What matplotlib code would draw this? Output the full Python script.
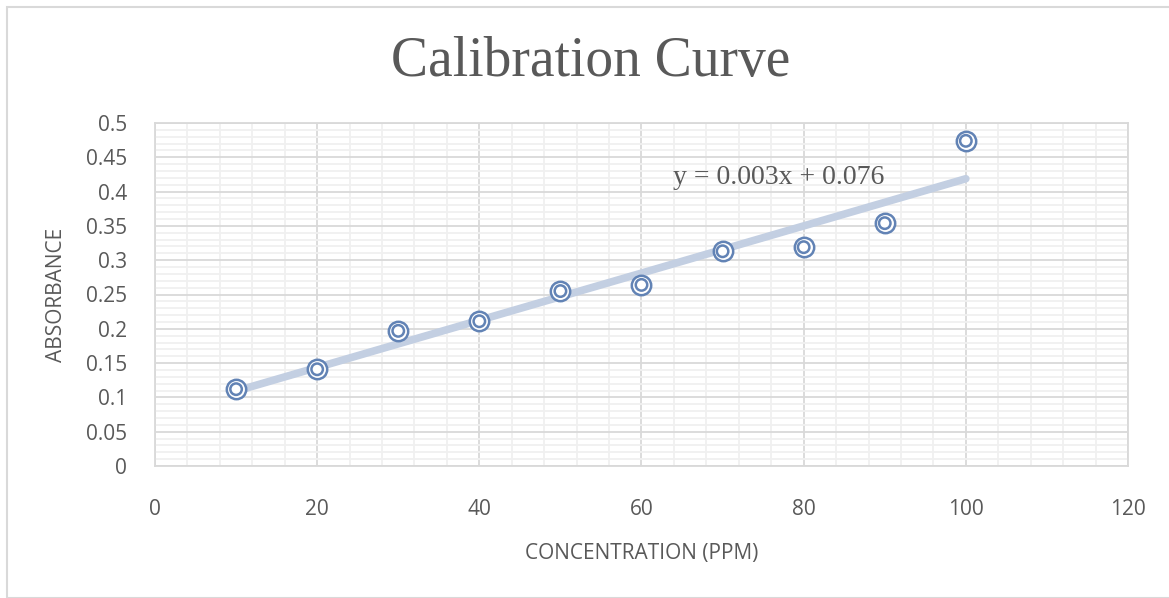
import numpy as np
import matplotlib.pyplot as plt
from matplotlib.patches import Rectangle
from matplotlib.ticker import MultipleLocator

concentration = [10, 20, 30, 40, 50, 60, 70, 80, 90, 100]
absorbance = [0.112, 0.141, 0.197, 0.211, 0.255, 0.264, 0.313, 0.319, 0.354, 0.474]
y_ticks = ["0", "0.05", "0.1", "0.15", "0.2", "0.25", "0.3", "0.35", "0.4", "0.45", "0.5"]
equation = "y = 0.003x + 0.076"

text_grey = "#595959"
marker_blue = "#6283B5"
trend_blue = "#C3CFE2"

fig = plt.figure(figsize=(11.69, 5.98), dpi=100)
fig.patches.append(Rectangle((7 / 1169, 0.0), 1.2, 1 - 7 / 598, transform=fig.transFigure,
                             fill=False, edgecolor="#D9D9D9", linewidth=1.5))
ax = fig.add_axes([155 / 1169, 1 - 466 / 598, (1128 - 155) / 1169, (466 - 123) / 598])

# linear trendline from the data
slope, intercept = np.polyfit(concentration, absorbance, 1)
xs = np.array([concentration[0], concentration[-1]])
ax.plot(xs, slope * xs + intercept, color=trend_blue, linewidth=5.5,
        solid_capstyle="round", zorder=2)

ax.scatter(concentration, absorbance, s=195, facecolors="white", edgecolors=marker_blue,
           linewidths=1.8, zorder=3)
ax.scatter(concentration, absorbance, s=68, facecolors="none", edgecolors=marker_blue,
           linewidths=1.8, zorder=4)

ax.text(63.9, 0.42, equation, fontsize=20, family="Liberation Serif", color=text_grey,
        ha="left", va="center", zorder=5)

ax.set_xlim(0, 120)
ax.set_ylim(0, 0.5)
ax.xaxis.set_major_locator(MultipleLocator(20))
ax.xaxis.set_minor_locator(MultipleLocator(4))
ax.yaxis.set_minor_locator(MultipleLocator(0.01))
ax.set_yticks(np.arange(0, 0.501, 0.05))
ax.set_yticklabels(y_ticks)
ax.grid(which="minor", color="#F0F0F0", linewidth=1.3, zorder=0)
ax.grid(which="major", color="#D9D9D9", linewidth=1.3, zorder=1)
ax.set_axisbelow(True)
ax.tick_params(which="both", length=0)
ax.tick_params(axis="x", pad=24, labelsize=15, labelcolor=text_grey)
ax.tick_params(axis="y", pad=20, labelsize=15, labelcolor=text_grey)
for lab in ax.get_xticklabels() + ax.get_yticklabels():
    lab.set_family("Open Sans")
for sp in ax.spines.values():
    sp.set_color("#D9D9D9")
    sp.set_linewidth(1.3)

ax.set_xlabel("CONCENTRATION (PPM)", fontsize=15, color=text_grey, family="Open Sans",
              labelpad=16)
ax.set_ylabel("ABSORBANCE", fontsize=15, color=text_grey, family="Open Sans", labelpad=14)
fig.text(0.505, 1 - 62 / 598, "Calibration Curve", fontsize=40, color=text_grey,
         family="Liberation Serif", ha="center", va="center")

fig.savefig("out.png", dpi=100)
